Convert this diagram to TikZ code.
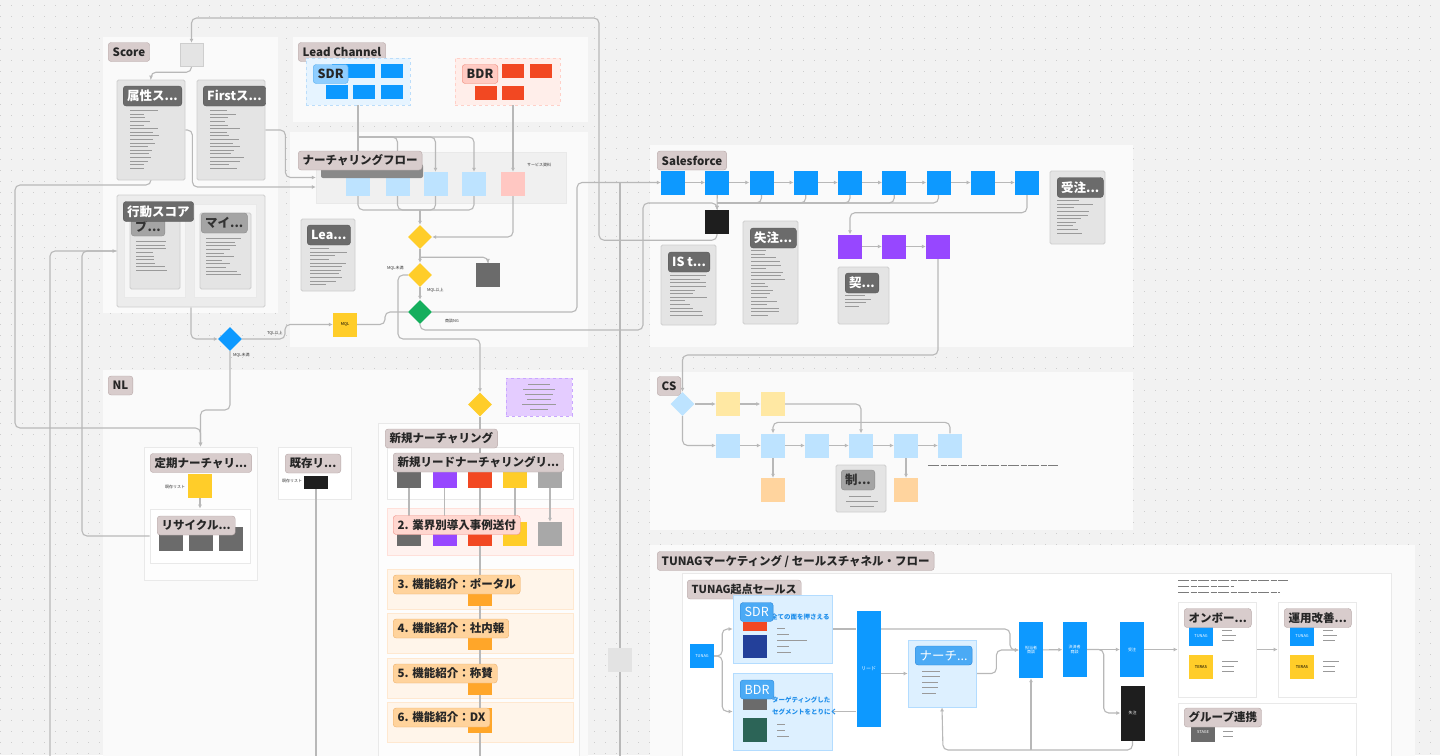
\documentclass[tikz,border=0pt]{standalone}
\usepackage{fontspec}
\setmainfont{Noto Sans CJK JP}
\usepackage{tikz}
\usetikzlibrary{arrows.meta,positioning,shapes.geometric}
\pgfdeclarelayer{back}
\pgfdeclarelayer{lines}
\pgfsetlayers{back,lines,main}
\definecolor{canvas}{HTML}{F2F2F2}
\definecolor{dotc}{HTML}{CDCDCD}
\definecolor{panelc}{HTML}{FAFAFA}
\definecolor{paneledge}{HTML}{E9E9E9}
\definecolor{connc}{HTML}{B8B8B8}
\definecolor{tagfill}{HTML}{D8CCCC}
\definecolor{tagline}{HTML}{B8A8A8}
\definecolor{cardfill}{HTML}{E4E4E4}
\definecolor{cardline}{HTML}{CECECE}
\definecolor{subfill}{HTML}{F6F6F6}
\definecolor{innerc}{HTML}{F0F0F0}
\definecolor{cardtagc}{HTML}{6B6B6B}
\definecolor{greytagc}{HTML}{A4A4A4}
\definecolor{figblue}{HTML}{0D99FF}
\definecolor{figred}{HTML}{F24822}
\definecolor{figpurple}{HTML}{9747FF}
\definecolor{figyellow}{HTML}{FFCD29}
\definecolor{figgreen}{HTML}{14AE5C}
\definecolor{figdark}{HTML}{1E1E1E}
\definecolor{figgray}{HTML}{6B6B6B}
\definecolor{figlgray}{HTML}{A8A8A8}
\definecolor{lblue}{HTML}{BDE3FF}
\definecolor{lpink}{HTML}{FFC7C2}
\definecolor{lyellow}{HTML}{FFE8A3}
\definecolor{lorange}{HTML}{FFD49E}
\definecolor{sdrpanel}{HTML}{E6F4FF}
\definecolor{sdrline}{HTML}{BBDDFA}
\definecolor{sdrtag}{HTML}{8FCEFF}
\definecolor{sdrtagline}{HTML}{55AEF0}
\definecolor{bdrpanel}{HTML}{FFEEEA}
\definecolor{bdrline}{HTML}{FFD0C8}
\definecolor{bdrtag}{HTML}{FFCBC3}
\definecolor{bdrtagline}{HTML}{EE8877}
\definecolor{pinkpanel}{HTML}{FFF2EF}
\definecolor{pinkline}{HTML}{FFE0DA}
\definecolor{pinktag}{HTML}{FFD6CF}
\definecolor{pinktagline}{HTML}{EF8F85}
\definecolor{orpanel}{HTML}{FFF5EA}
\definecolor{orline}{HTML}{FFE8D0}
\definecolor{ortag}{HTML}{FFD39C}
\definecolor{ortagline}{HTML}{EDB06B}
\definecolor{orblock}{HTML}{FFA629}
\definecolor{purnote}{HTML}{E4CCFF}
\definecolor{purline}{HTML}{C9A6FF}
\definecolor{tutag}{HTML}{4BAAF5}
\definecolor{tutagline}{HTML}{2A84D6}
\definecolor{tupanel}{HTML}{DDF0FF}
\definecolor{tuline}{HTML}{B3DCFF}
\definecolor{tutext}{HTML}{1E8EEB}
\definecolor{navy}{HTML}{23409A}
\definecolor{dgreen}{HTML}{2C6457}
\definecolor{touchc}{HTML}{E3E3E3}
\definecolor{txtc}{HTML}{9A9A9A}
\tikzset{
  dotrow/.style={draw=dotc,line width=1.3pt,dash pattern=on 1.3pt off 9.7pt},
  wpanel/.style={fill=white,draw=paneledge,line width=0.8pt,inner sep=0},
  sectag/.style={anchor=west,fill=tagfill,draw=tagline,rounded corners=3pt,inner xsep=4.5pt,
    inner ysep=0pt,minimum height=19,font=\bfseries\fontsize{11.5}{13}\selectfont,text=black!85},
  cardtag/.style={anchor=west,fill=cardtagc,draw=cardtagc!80!black,rounded corners=3pt,inner xsep=4pt,
    inner ysep=0pt,minimum height=20,font=\bfseries\fontsize{12.5}{14}\selectfont,text=white},
  greytag/.style={cardtag,fill=greytagc,draw=greytagc!85!black,text=black!80},
  sdrtagst/.style={sectag,fill=sdrtag,draw=sdrtagline,font=\bfseries\fontsize{12.5}{14}\selectfont},
  bdrtagst/.style={sectag,fill=bdrtag,draw=bdrtagline,font=\bfseries\fontsize{12.5}{14}\selectfont},
  tutagst/.style={sectag,fill=tutag,draw=tutagline,text=white,font=\fontsize{12.5}{14}\selectfont},
  pinktagst/.style={sectag,fill=pinktag,draw=pinktagline},
  ortagst/.style={sectag,fill=ortag,draw=ortagline},
  card/.style={fill=cardfill,draw=cardline,rounded corners=1.5pt,inner sep=0,line width=0.8pt},
  subcard/.style={fill=subfill,draw=paneledge,inner sep=0},
  sbox/.style={inner sep=0,minimum width=24,minimum height=24,align=center,text=white,
    font=\fontsize{4}{4.6}\selectfont},
  dia/.style={diamond,aspect=1,inner sep=0,minimum width=24,minimum height=24},
  grp/.style={dashed,line width=0.6pt,inner sep=0},
  conn/.style={draw=connc,line width=1.1pt,rounded corners=5pt},
  arr/.style={conn,-{Latex[length=4pt,width=4pt]}},
  mini/.style={inner sep=0,font=\fontsize{4}{4.6}\selectfont,text=black!80},
  txtline/.style={draw=txtc,line width=0.7pt},
  wordline/.style={draw=txtc!80!black,line width=0.5pt,dash pattern=on 11pt off 1.5pt on 6pt off 1.5pt},
  tubox/.style={fill=tupanel,draw=tuline,line width=0.8pt,inner sep=0},
  blutext/.style={anchor=west,inner sep=0,text=tutext,font=\bfseries\fontsize{6.5}{7.5}\selectfont}
}
\newcommand{\txtlines}[4]{%
  \foreach \k in {1,...,#3}{%
    \pgfmathsetmacro{\len}{#4*(0.4+0.6*rnd)}%
    \draw[txtline] (#1,#2+\k*3.6) -- ++(\len,0);}}
\pgfmathsetseed{7}

\begin{document}
\begin{tikzpicture}[x=1pt,y=-1pt]
\useasboundingbox (0,0) rectangle (1440,755);
\begin{pgfonlayer}{back}
\fill[canvas] (0,0) rectangle (1440,755);
\foreach \r in {0,...,68} \draw[dotrow] (0,\r*11+5.5) -- (1440,\r*11+5.5);
\fill[panelc] (103,37) rectangle (278,313);
\fill[panelc] (293,37) rectangle (588,122);
\fill[panelc] (290,132) rectangle (588,347);
\fill[panelc] (103,370) rectangle (588,765);
\fill[panelc] (650,145) rectangle (1133,347);
\fill[panelc] (650,372) rectangle (1133,530);
\fill[panelc] (650,545) rectangle (1415,765);
\fill[white,draw=paneledge] (682,573) rectangle (1391,765);
\node[fill=innerc,draw=paneledge,inner sep=0,minimum width=250,minimum height=51] (nflow) at (441,177.5) {};
\node[wpanel,fill=white!60!panelc,minimum width=201,minimum height=342] (newp) at (478.5,594) {};
\node[wpanel,minimum width=186,minimum height=52] (sub1) at (480,473) {};
\node[wpanel,fill=pinkpanel,draw=pinkline,minimum width=186,minimum height=47] (sub2) at (480,531.5) {};
\foreach \t in {569,613,658,702}
  \node[wpanel,fill=orpanel,draw=orline,minimum width=186,minimum height=40] at (480,\t+20) {};
\node[wpanel,fill=white!60!panelc,minimum width=113,minimum height=133] (teiki) at (200.5,513.5) {};
\node[wpanel,minimum width=100,minimum height=54] (recyc) at (200,536) {};
\node[wpanel,minimum width=73,minimum height=52] (kizon) at (314.5,473) {};
\end{pgfonlayer}

\node[sectag] (tScore) at (108,52) {Score};
\node[sbox,fill=cardfill,draw=cardline,minimum width=23,minimum height=23] (sc0) at (191.5,54.5) {};
\node[card,minimum width=68,minimum height=100] (attr) at (151,130) {};
\node[card,minimum width=68,minimum height=100] (first) at (231,130) {};
\node[cardtag] at (123,96) {属性ス...};
\node[cardtag] at (203,96) {Firstス...};
\txtlines{130}{107}{17}{30}
\txtlines{210}{107}{17}{34}
\node[card,fill=cardfill!70!white,minimum width=148,minimum height=112] (action) at (191,251) {};
\node[subcard,minimum width=61,minimum height=93] at (154.5,250.5) {};
\node[subcard,minimum width=62,minimum height=93] at (225,250.5) {};
\node[card,minimum width=50,minimum height=77] (bu) at (155,250.5) {};
\node[card,minimum width=51,minimum height=76] (mai) at (225.5,251) {};
\node[greytag] at (131,226) {ブ...};
\node[greytag] at (201,223) {マイ...};
\txtlines{136}{238}{9}{32}
\txtlines{206}{235}{11}{36}
\node[cardtag] at (123,211.5) {行動スコア};

\node[sectag] (tLead) at (298,52) {Lead Channel};
\node[grp,fill=sdrpanel,draw=sdrline,minimum width=104,minimum height=47] (sdrg) at (358,81.5) {};
\foreach \n/\x/\y in {s1/342.5/71,s2/364/71,s3/392/71,s4/336.5/91.5,s5/364/91.5,s6/392/91.5}
  \node[sbox,fill=figblue,minimum width=22,minimum height=14] (\n) at (\x,\y) {};
\node[sdrtagst] at (313,74) {SDR};
\node[grp,fill=bdrpanel,draw=bdrline,minimum width=105,minimum height=47] (bdrg) at (507.5,81.5) {};
\foreach \n/\x/\y in {b1/512.5/71,b2/540.5/71,b3/485.5/93,b4/512.5/93}
  \node[sbox,fill=figred,minimum width=22,minimum height=14] (\n) at (\x,\y) {};
\node[bdrtagst] at (462,74) {BDR};

\foreach \n/\x in {f1/358,f2/397.5,f3/435.5,f4/474}
  \node[sbox,fill=lblue] (\n) at (\x,184) {};
\node[sbox,fill=lpink] (f5) at (513,184) {};
\node[fill=figgray!80,rounded corners=2pt,inner sep=0,minimum width=102,minimum height=14] (tNurB) at (372,171) {};
\node[sectag] (tNur) at (298,160.5) {ナーチャリングフロー};
\node[mini,anchor=west] at (527,165) {サービス資料};
\node[card,minimum width=54,minimum height=72] (lea) at (328,255) {};
\node[cardtag] at (307,235) {Lea...};
\txtlines{310}{245}{11}{38}
\node[dia,fill=figyellow] (d1) at (420,237) {};
\node[dia,fill=figyellow] (d2) at (420,275) {};
\node[dia,fill=figgreen] (dg) at (420,312) {};
\node[sbox,fill=figgray] (ng) at (488,275) {};
\node[sbox,fill=figyellow,text=black] (mql) at (345,324.5) {MQL};
\node[dia,fill=figblue] (db) at (230,339) {};
\node[mini,anchor=west] at (387,268) {MQL未満};
\node[mini,anchor=west] at (427,290) {MQL以上};
\node[mini,anchor=west] at (445,321) {商談NG};
\node[mini,anchor=west] at (267,333) {TQL以上};
\node[mini,anchor=west] at (233,355) {MQL未満};

\node[sectag] (tNL) at (108,385.5) {NL};
\node[dia,fill=figyellow] (dnl) at (480,404.5) {};
\node[grp,fill=purnote,draw=purline,minimum width=66,minimum height=38] (pnote) at (539,397) {};
\foreach \yy/\ll in {384/22,389/32,394/28,399/24,404/34,409/18}
  \draw[txtline,line width=0.6pt] ({539-\ll/2},\yy) -- ++(\ll,0);
\node[sectag] (tNew) at (385,438.5) {新規ナーチャリング};
\foreach \i/\x/\c in {1/409/figgray,2/444.5/figpurple,3/479.5/figred,4/515/figyellow,5/550/figlgray}{
  \node[sbox,fill=\c,minimum height=18] (ra\i) at (\x,479) {};
  \node[sbox,fill=\c] (rb\i) at (\x,534) {};}
\node[sectag] (tNewLead) at (393,462.5) {新規リードナーチャリングリ...};
\node[pinktagst] (tCase) at (393,525) {2. 業界別導入事例送付};
\node[sbox,fill=orblock,minimum height=25] (ob3) at (480,593.5) {};
\node[ortagst] (tOr3) at (393,584.5) {3. 機能紹介：ポータル};
\node[sbox,fill=orblock,minimum height=25] (ob4) at (480,637.5) {};
\node[ortagst] (tOr4) at (393,628.5) {4. 機能紹介：社内報};
\node[sbox,fill=orblock,minimum height=25] (ob5) at (480,682.5) {};
\node[ortagst] (tOr5) at (393,673.5) {5. 機能紹介：称賛};
\node[sbox,fill=orblock,minimum height=25] (ob6) at (480,720.5) {};
\node[ortagst] (tOr6) at (393,717.5) {6. 機能紹介：DX};

\node[sectag] (tTeiki) at (150,463) {定期ナーチャリ...};
\node[mini,anchor=west] at (165,487) {既存リスト};
\node[sbox,fill=figyellow] (ty) at (200,486) {};
\foreach \n/\x in {g1/171,g2/200.5,g3/231}
  \node[sbox,fill=figgray] (\n) at (\x,539) {};
\node[sectag] (tRecyc) at (157,525.5) {リサイクル...};
\node[sectag] (tKizon) at (285,463.5) {既存リ...};
\node[mini,anchor=west] at (282,481) {既存リスト};
\node[sbox,fill=figdark,minimum height=13] (kb) at (316,482) {};
\node[sbox,fill=touchc] (touch) at (620,660) {};

\node[sectag] (tSF) at (657,160.5) {Salesforce};
\foreach \i in {1,...,9}
  \node[sbox,fill=figblue] (sf\i) at ({673+44.25*(\i-1)},182.5) {};
\node[sbox,fill=figdark] (tel) at (717,222) {};
\foreach \n/\x in {p1/850,p2/894,p3/938}
  \node[sbox,fill=figpurple] (\n) at (\x,246.5) {};
\node[card,minimum width=55,minimum height=80] (iscard) at (688.5,285) {};
\node[cardtag] at (668,262) {IS t...};
\txtlines{670}{272}{12}{38}
\node[card,minimum width=55,minimum height=103] (lostcard) at (770.5,272.5) {};
\node[cardtag] at (750,238) {失注...};
\txtlines{751}{247}{19}{34}
\node[card,minimum width=51,minimum height=57] (kei) at (863.5,295.5) {};
\node[cardtag] at (845,283) {契...};
\txtlines{845}{292}{4}{30}
\node[card,minimum width=55,minimum height=73] (ordcard) at (1077.5,207.5) {};
\node[cardtag] at (1057,187.5) {受注...};
\txtlines{1057}{197}{10}{40}

\node[sectag] (tCS) at (657,386) {CS};
\node[dia,fill=lblue] (dcs) at (682.5,404) {};
\node[sbox,fill=lyellow] (y1) at (728,404) {};
\node[sbox,fill=lyellow] (y2) at (772.5,404) {};
\foreach \i/\x in {1/728,2/773,3/817,4/861,5/906,6/950}
  \node[sbox,fill=lblue] (c\i) at (\x,445.5) {};
\node[sbox,fill=lorange] (o1) at (773,490) {};
\node[sbox,fill=lorange] (o2) at (906,490) {};
\node[card,minimum width=50,minimum height=47] (ctrl) at (861,488.5) {};
\node[greytag] at (841,480) {制...};
\draw[txtline] (849,496) -- ++(22,0);
\draw[txtline] (846,501) -- ++(32,0);
\draw[txtline] (850,506) -- ++(24,0);
\draw[wordline] (928,465) -- ++(130,0);

\node[sectag] (tTU) at (657,561) {TUNAGマーケティング / セールスチャネル・フロー};
\node[sectag,font=\bfseries\fontsize{11}{13}\selectfont] (tTUS) at (687,589.5) {TUNAG起点セールス};
\node[tubox,minimum width=99,minimum height=68] (sdr) at (782.5,629) {};
\node[tubox,minimum width=99,minimum height=77] (bdr) at (782.5,711.5) {};
\node[sbox,fill=figblue] (tun) at (702,656) {TUNAG};
\node[sbox,fill=figred,minimum height=9] (sdrred) at (755,626.5) {};
\node[sbox,fill=navy,minimum height=23] (sdrnavy) at (755,646.5) {};
\node[blutext] at (771,617) {全ての面を押さえる};
\node[tutagst] (tSDR) at (740,612) {SDR};
\foreach \yy/\ll in {628/8,634/12,640/30,646/12,652/14}
  \draw[txtline,line width=0.6pt] (777,\yy) -- ++(\ll,0);
\node[sbox,fill=figgray,minimum height=12] (bdrgray) at (755,704) {};
\node[sbox,fill=dgreen] (bdrgreen) at (755,730) {};
\node[blutext] at (772,700) {ターゲティングした};
\node[blutext] at (772,712) {セグメントをとりにく};
\node[tutagst] (tBDR) at (740,689.5) {BDR};
\foreach \yy/\ll in {724/8,730/8,736/12}
  \draw[txtline,line width=0.6pt] (777,\yy) -- ++(\ll,0);
\node[sbox,fill=figblue,minimum height=116,font=\fontsize{5}{6}\selectfont] (lead) at (868.5,669) {リード};
\node[tubox,minimum width=68,minimum height=67] (nurt) at (942,673.5) {};
\node[tutagst] (tNurt) at (915,655.5) {ナーチ...};
\foreach \yy/\ll in {671/18,676.5/18,682/16,687.5/16,693/14}
  \draw[txtline,line width=0.6pt] (922,\yy) -- ++(\ll,0);
\node[sbox,fill=figblue,minimum height=56] (tt1) at (1031,650) {担当者\\商談};
\node[sbox,fill=figblue,minimum height=55] (tt2) at (1074.5,649.5) {決済者\\商談};
\node[sbox,fill=figblue,minimum height=55] (ord) at (1132,649.5) {受注};
\node[sbox,fill=figdark,minimum height=55] (lost) at (1132.5,713) {失注};
\foreach \yy/\ll in {580/110,586/56,592/102}
  \draw[wordline] (1178,\yy) -- ++(\ll,0);
\node[wpanel,minimum width=78,minimum height=95] (onb) at (1217,649.5) {};
\node[wpanel,minimum width=78,minimum height=95] (kai) at (1317,649.5) {};
\node[wpanel,minimum width=178,minimum height=62] (grp) at (1267,734) {};
\foreach \xx/\nm in {1201/on,1302/ka}{
  \node[sbox,fill=figblue,minimum height=20] (\nm T) at (\xx,636) {TUNAG};
  \node[sbox,fill=figyellow,text=black] (\nm R) at (\xx,667) {TERAS};
  \foreach \yy/\ll in {630/10,635/14,640/12,661/16,666/12,671/12}
    \draw[txtline,line width=0.6pt] (\xx+21,\yy) -- ++(\ll,0);}
\node[sbox,fill=figgray,minimum height=20] (stage) at (1203,732) {STAGE};
\draw[txtline,line width=0.6pt] (1223,731) -- ++(10,0);
\draw[txtline,line width=0.6pt] (1223,736) -- ++(10,0);
\node[sectag] (tOnb) at (1184,618) {オンボー...};
\node[sectag] (tKai) at (1284,618) {運用改善...};
\node[sectag] (tGrp) at (1184,717.5) {グループ連携};

\begin{pgfonlayer}{lines}
\draw[arr] (tel.south) -- ++(0,6) -| (599,18) -| (sc0.north);
\draw[arr] (sc0.south) -- ++(0,6) -| (attr.north);
\draw[arr] (attr.south) |- (15,185) |- (200.5,428) -- (teiki.north);
\draw[arr] (attr.east) -- ++(7,0) |- ([yshift=-9.5pt]nflow.west);
\draw[arr] (first.east) -- ++(20,0) |- (nflow.west);
\draw[arr] (recyc.west) -- (82,536) -- (82,251) -- (action.west);
\draw[conn] (50,765) |- (action.west);
\draw[arr] (action.south) |- (db.west);
\draw[arr] (db.south) -- (230,410) -| (teiki.north);
\draw[arr] (db.east) -- (285,339) |- (mql.west);
\draw[conn] (mql.east) -- (385,324.5) |- (dg.west);
\draw[arr] (dg.east) -- (577,312) |- (sf1.west);
\draw[arr] (dg.south) |- (643,330) |- (717,203) -- (tel.north);
\coordinate (sdrfan) at (358,137);
\draw[arr] (sdrg.south) -- (f1.north);
\foreach \b in {f2,f3,f4} \draw[arr] (sdrfan) -| (\b.north);
\coordinate (mrg) at (420,210);
\foreach \b in {f1,f2,f3,f4} \draw[conn] (\b.south) |- (mrg);
\draw[arr] (mrg) -- (d1.north);
\draw[arr] (f5.north |- bdrg.south) -- (f5.north);
\draw[arr] (f5.south) |- (d1.east);
\draw[arr] (d1.south) -- (d2.north);
\draw[arr] ([yshift=-8pt]d1.south) -| (ng.north);
\draw[arr] (d2.south) -- (dg.north);
\draw[arr] (d2.west) -| (398,339) -| (dnl.north);
\draw[conn] (dnl.south) -- (480,765);
\foreach \i in {1,...,4} \draw[conn] (ra\i.south) -- (rb\i.north);
\draw[arr] (ra5.south) -- (rb5.north);
\draw[arr] (ty.south) -- (recyc.north);
\draw[conn] (kb.south) -- (316,765);
\draw[conn] (touch.north) -- (620,182.5);
\draw[conn] (touch.south) -- (620,765);
\foreach \a/\b in {1/2,2/3,3/4,4/5,5/6,6/7,7/8,8/9} \draw[arr] (sf\a) -- (sf\b);
\coordinate (sfm) at (717,203);
\foreach \b in {sf3,sf4,sf5,sf6,sf7} \draw[conn] (\b.south) |- (sfm);
\draw[arr] (sf2.south) -- (tel.north);
\draw[arr] (sf9.south) -- ++(0,18) -| (p1.north);
\draw[arr] (p1) -- (p2);
\draw[arr] (p2) -- (p3);
\coordinate (csin) at (682.5,355);
\draw[arr] (p3.south) |- (csin) -- (dcs.north);
\draw[arr] (dcs) -- (y1);
\draw[arr] (y1) -- (y2);
\draw[arr] (y2.east) -| (c4.north);
\draw[arr] (dcs.south) |- (c1.west);
\foreach \a/\b in {1/2,2/3,3/4,4/5,5/6} \draw[arr] (c\a) -- (c\b);
\draw[arr] (c6.north) -- ++(0,-11) -| (c2.north);
\draw[arr] (c2.south) -- (o1.north);
\draw[arr] (c5.south) -- (o2.north);
\draw[arr] (tun.east) -- ++(8,0) |- (sdr.west);
\draw[arr] (tun.east) -- ++(8,0) |- (bdr.west);
\draw[conn] (sdr.east) -- (lead.west |- sdr.east);
\draw[conn] (bdr.east) -- (lead.west |- bdr.east);
\draw[arr] (lead.east |- nurt.west) -- (nurt.west);
\draw[arr] (lead.east |- sdr.east) -- (1010,629) |- (tt1.west);
\draw[arr] (nurt.east) -- ++(20,0) |- (tt1.west);
\draw[arr] (tt1) -- (tt2);
\draw[arr] (tt2) -- (ord);
\draw[arr] (tt2.east) -- ++(17,0) |- (lost.west);
\draw[arr] (ord) -- (onb);
\draw[arr] (onb) -- (kai);
\coordinate (lp) at (943,750);
\draw[arr] (lost.south) |- (lp) -- (nurt.south);
\draw[arr] (tt1.south |- lp) -- (tt1.south);
\end{pgfonlayer}
\end{tikzpicture}
\end{document}
